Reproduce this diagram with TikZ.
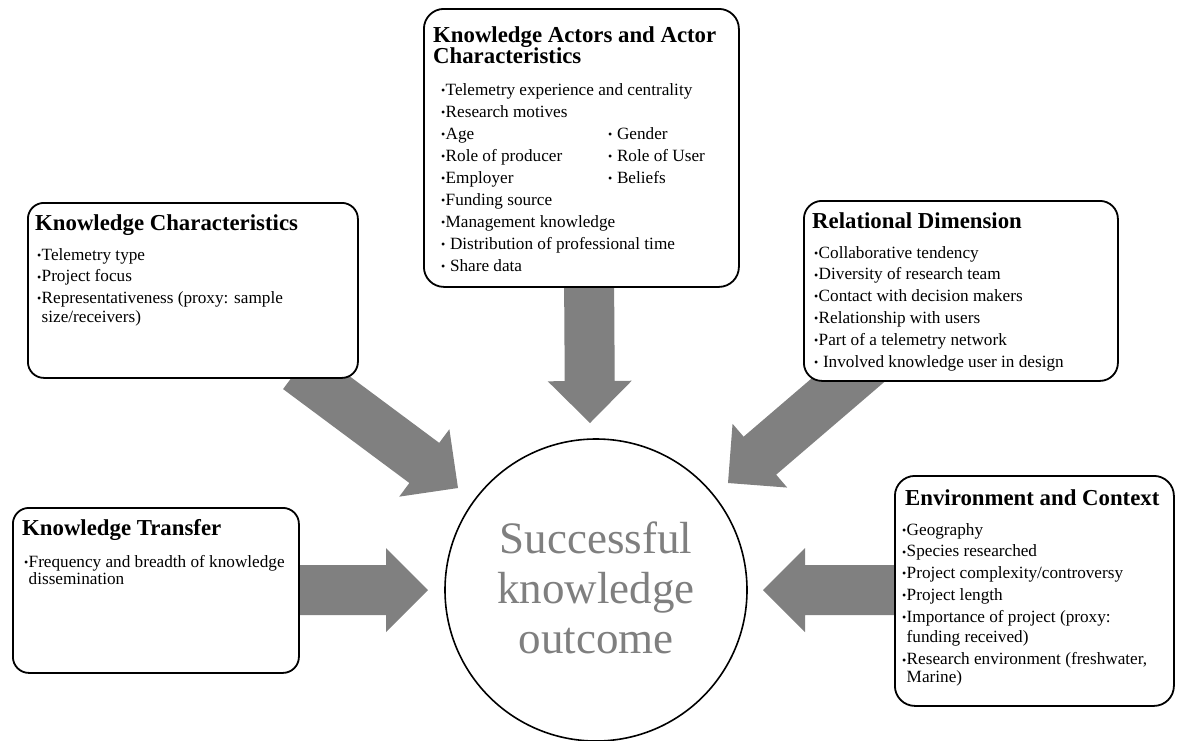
\documentclass[tikz,border=0pt]{standalone}
\usepackage{fontspec}
\setmainfont{Liberation Serif}
\usetikzlibrary{calc}
\definecolor{arrowgray}{HTML}{808080}
\definecolor{textgray}{HTML}{7F7F7F}
\newcommand\bu{\makebox[4.5pt][l]{\raisebox{0.8pt}{\fontsize{12}{12}\selectfont •}}}
\newcommand\blockarrow[3]{%
  \coordinate (#3) at ($(#2)!42pt!(#1)$);
  \fill[arrowgray] ($(#1)!25pt!90:(#2)$) -- ($(#3)!25pt!90:(#2)$) -- ($(#3)!42pt!90:(#2)$) -- (#2)
    -- ($(#3)!42pt!-90:(#2)$) -- ($(#3)!25pt!-90:(#2)$) -- ($(#1)!25pt!-90:(#2)$) -- cycle;}
\tikzset{
  box/.style={draw=black, fill=white, line width=1.8pt, anchor=north west, inner sep=0pt},
  titletext/.style={anchor=base west, inner sep=0pt, font=\fontsize{22.8}{21}\selectfont\bfseries},
  bodytext/.style={anchor=base west, inner sep=0pt, font=\fontsize{17.2}{21.8}\selectfont},
}
\begin{document}
\begin{tikzpicture}[x=1pt,y=-1pt]
\useasboundingbox[fill=white] (0,0) rectangle (1177,740);

% arrow end points
\coordinate (sTop) at (589,270);   \coordinate (tTop) at (590,423);
\coordinate (sLeft) at (290,590);  \coordinate (tLeft) at (428,590);
\coordinate (sRight) at (900,590); \coordinate (tRight) at (763,590);
\coordinate (sDL) at (298,369);    \coordinate (tDL) at (458,488);
\coordinate (sDR) at (882,351);    \coordinate (tDR) at (728,483);

\blockarrow{sTop}{tTop}{hTop}
\blockarrow{sLeft}{tLeft}{hLeft}
\blockarrow{sRight}{tRight}{hRight}
\blockarrow{sDL}{tDL}{hDL}
\blockarrow{sDR}{tDR}{hDR}

% boxes
\node[box, rounded corners=20pt, minimum width=315pt, minimum height=278pt] (kaBox) at (423,8) {};
\node[box, rounded corners=16pt, minimum width=330pt, minimum height=175pt] (kcBox) at (27,202) {};
\node[box, rounded corners=18pt, minimum width=314pt, minimum height=180pt] (rdBox) at (803,200) {};
\node[box, rounded corners=16pt, minimum width=286pt, minimum height=165pt] (ktBox) at (12,507) {};
\node[box, rounded corners=20pt, minimum width=279pt, minimum height=230pt] (ecBox) at (894,475) {};

% centre
\node[draw=black, line width=1.6pt, circle, minimum size=302pt, inner sep=0pt] (goal) at (596,590) {};
\node[anchor=base, inner sep=0pt, text=textgray, font=\fontsize{45}{50}\selectfont] (goalText) at (596,553)
  {\parbox[t]{280pt}{\centering Successful\\knowledge\\outcome}};

% Knowledge actors
\node[titletext] (kaTitle) at (433,42) {\parbox[t]{300pt}{\raggedright Knowledge Actors and Actor\\Characteristics}};
\node[bodytext] (kaText) at (441,95) {\parbox[t]{295pt}{\raggedright\fontsize{17.2}{22}\selectfont
\bu Telemetry experience and centrality\\
\bu Research motives\\
\makebox[167pt][l]{\bu Age}\bu\ Gender\\
\makebox[167pt][l]{\bu Role of producer}\bu\ Role of User\\
\makebox[167pt][l]{\bu Employer}\bu\ Beliefs\\
\bu Funding source\\
\bu Management knowledge\\
\bu\ Distribution of professional time\\
\bu\ Share data}};

% Knowledge characteristics
\node[titletext] (kcTitle) at (35,230) {Knowledge Characteristics};
\node[bodytext] (kcText) at (37,260) {\parbox[t]{315pt}{\raggedright
\bu Telemetry type\\
\bu Project focus\\
\bu Representativeness (proxy: sample\\[-2.5pt]
\hspace*{4.5pt}size/receivers)}};

% Relational dimension
\node[titletext] (rdTitle) at (812,228) {Relational Dimension};
\node[bodytext] (rdText) at (814,258) {\parbox[t]{295pt}{\raggedright
\bu Collaborative tendency\\
\bu Diversity of research team\\
\bu Contact with decision makers\\
\bu Relationship with users\\
\bu Part of a telemetry network\\
\bu\ Involved knowledge user in design}};

% Knowledge transfer
\node[titletext] (ktTitle) at (22,535) {Knowledge Transfer};
\node[bodytext] (ktText) at (24,567) {\parbox[t]{270pt}{\raggedright
\bu Frequency and breadth of knowledge\\[-4pt]
\hspace*{4.5pt}dissemination}};

% Environment and context
\node[titletext] (ecTitle) at (905,505) {Environment and Context};
\node[bodytext] (ecText) at (902,535) {\parbox[t]{265pt}{\raggedright
\bu Geography\\
\bu Species researched\\
\bu Project complexity/controversy\\
\bu Project length\\
\bu Importance of project (proxy:\\[-2pt]
\hspace*{4.5pt}funding received)\\[1pt]
\bu Research environment (freshwater,\\[-4pt]
\hspace*{4.5pt}Marine)}};
\end{tikzpicture}
\end{document}
